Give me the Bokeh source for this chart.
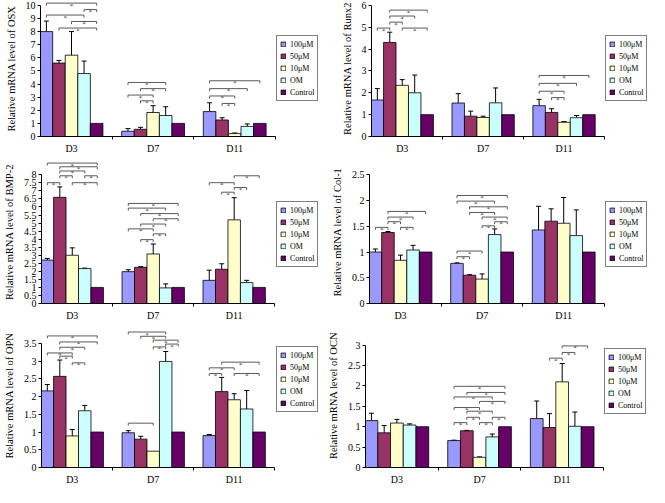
from bokeh.plotting import figure
from bokeh.models import (ColumnDataSource, Range1d, FixedTicker, Whisker, TeeHead,
                          Legend, LegendItem)
from bokeh.layouts import row, column
from bokeh.embed import file_html
from bokeh.resources import INLINE

# ---------------- data ----------------
DAYS = ["D3", "D7", "D11"]
GROUPS = ["100μM", "50μM", "10μM", "OM", "Control"]
COLORS = ["#9999FF", "#993366", "#FFFFCC", "#CCFFFF", "#660066"]

# means per day: [100μM, 50μM, 10μM, OM, Control]
OSX_MEAN = [[8.0, 5.6, 6.2, 4.8, 1.0], [0.4, 0.55, 1.83, 1.6, 1.0], [1.9, 1.26, 0.22, 0.77, 1.0]]
OSX_ERR = [[0.8, 0.2, 1.8, 0.95, 0], [0.2, 0.15, 0.52, 0.67, 0], [0.67, 0.17, 0.05, 0.19, 0]]
OSX_TICKS = [0, 1, 2, 3, 4, 5, 6, 7, 8, 9, 10]
# significance brackets: (day, group a, group b, level, star)
OSX_SIG = [(0, 0, 4, 10.17, 1), (0, 3, 4, 9.68, 1), (0, 0, 3, 9.26, 1), (0, 2, 4, 8.77, 1), (0, 1, 4, 8.27, 1),
           (1, 0, 3, 4.12, 1), (1, 1, 3, 3.65, 1), (1, 0, 2, 3.16, 1), (1, 1, 2, 2.72, 1),
           (2, 0, 4, 4.25, 1), (2, 0, 3, 3.65, 1), (2, 0, 2, 3.09, 1), (2, 1, 2, 2.52, 1)]

RUNX2_MEAN = [[1.67, 4.3, 2.34, 2.0, 1.0], [1.53, 0.93, 0.87, 1.54, 1.0], [1.41, 1.1, 0.65, 0.86, 1.0]]
RUNX2_ERR = [[0.52, 0.47, 0.26, 0.81, 0], [0.43, 0.23, 0.06, 0.68, 0], [0.29, 0.17, 0.03, 0.1, 0]]
RUNX2_TICKS = [0, 1, 2, 3, 4, 5, 6]
RUNX2_SIG = [(0, 1, 4, 5.78, 1), (0, 1, 3, 5.51, 1), (0, 1, 2, 5.23, 1), (0, 0, 1, 4.96, 1), (0, 2, 4, 4.96, 1),
             (2, 0, 4, 2.79, 1), (2, 0, 3, 2.43, 1), (2, 0, 2, 2.07, 1), (2, 1, 2, 1.78, 1)]

BMP2_MEAN = [[2.7, 6.6, 3.0, 2.17, 1.0], [1.98, 2.25, 3.08, 0.97, 1.0], [1.44, 2.13, 5.2, 1.3, 1.0]]
BMP2_ERR = [[0.1, 0.65, 0.46, 0.03, 0], [0.12, 0.04, 0.62, 0.25, 0], [0.63, 0.34, 1.38, 0.14, 0]]
BMP2_TICKS = [0, 0.5, 1, 1.5, 2, 2.5, 3, 3.5, 4, 4.5, 5, 5.5, 6, 6.5, 7, 7.5, 8]
BMP2_SIG = [(0, 0, 4, 8.73, 1), (0, 1, 4, 8.50, 1), (0, 1, 3, 8.24, 1), (0, 1, 2, 7.94, 1), (0, 3, 4, 7.94, 1),
            (0, 0, 1, 7.51, 1), (0, 2, 4, 7.51, 1),
            (1, 0, 4, 6.22, 1), (1, 0, 3, 5.93, 1), (1, 1, 4, 5.59, 1), (1, 2, 4, 5.27, 1), (1, 1, 3, 4.94, 1),
            (1, 0, 2, 4.64, 1), (1, 2, 3, 4.33, 1), (1, 1, 2, 3.97, 1),
            (2, 2, 4, 7.94, 1), (2, 0, 2, 7.51, 1), (2, 2, 3, 7.21, 1), (2, 1, 2, 6.92, 1)]

COL1_MEAN = [[1.0, 1.38, 0.84, 1.04, 1.0], [0.78, 0.55, 0.475, 1.34, 1.0], [1.43, 1.6, 1.56, 1.32, 1.0]]
COL1_ERR = [[0.06, 0.02, 0.1, 0.09, 0], [0.01, 0.01, 0.1, 0.11, 0], [0.46, 0.24, 0.5, 0.5, 0]]
COL1_TICKS = [0, 0.5, 1, 1.5, 2, 2.5]
COL1_SIG = [(0, 1, 4, 1.79, 1), (0, 1, 3, 1.68, 1), (0, 1, 2, 1.59, 1), (0, 0, 1, 1.48, 1), (0, 2, 3, 1.48, 1),
            (1, 0, 4, 2.10, 1), (1, 0, 3, 1.99, 1), (1, 1, 4, 1.88, 1), (1, 1, 3, 1.77, 1), (1, 2, 4, 1.68, 1),
            (1, 3, 4, 1.59, 1), (1, 2, 3, 1.51, 1), (1, 0, 2, 1.02, 1), (1, 0, 1, 0.91, 1)]

OPN_MEAN = [[2.16, 2.57, 0.89, 1.6, 1.0], [0.98, 0.8, 0.46, 2.99, 1.0], [0.9, 2.14, 1.91, 1.65, 1.0]]
OPN_ERR = [[0.18, 0.46, 0.18, 0.15, 0], [0.06, 0.08, 0, 0.28, 0], [0.03, 0.4, 0.17, 0.52, 0]]
OPN_TICKS = [0, 0.5, 1, 1.5, 2, 2.5, 3, 3.5]
OPN_SIG = [(0, 0, 4, 3.71, 1), (0, 1, 4, 3.54, 1), (0, 1, 3, 3.39, 1), (0, 0, 2, 3.23, 1), (0, 1, 2, 3.14, 1),
           (0, 2, 3, 2.95, 1),
           (1, 0, 3, 3.82, 1), (1, 1, 3, 3.70, 1), (1, 2, 4, 3.59, 1), (1, 3, 4, 3.48, 1), (1, 2, 3, 3.40, 1),
           (1, 0, 2, 1.25, 0),
           (2, 1, 4, 2.97, 1), (2, 0, 2, 2.81, 1), (2, 0, 1, 2.65, 1), (2, 2, 4, 2.65, 1)]

OCN_MEAN = [[1.15, 0.85, 1.09, 1.04, 1.0], [0.66, 0.9, 0.25, 0.75, 1.0], [1.2, 0.98, 2.1, 1.01, 1.0]]
OCN_ERR = [[0.18, 0.18, 0.09, 0.03, 0], [0.01, 0.01, 0.01, 0.07, 0], [0.43, 0.34, 0.45, 0.35, 0]]
OCN_TICKS = [0, 0.5, 1, 1.5, 2, 2.5, 3]
OCN_SIG = [(1, 0, 4, 1.99, 1), (1, 1, 4, 1.84, 1), (1, 0, 3, 1.73, 1), (1, 2, 4, 1.62, 1), (1, 0, 2, 1.47, 1),
           (1, 1, 3, 1.38, 1), (1, 1, 2, 1.23, 1), (1, 3, 4, 1.23, 1), (1, 0, 1, 1.10, 1), (1, 2, 3, 1.10, 1),
           (2, 2, 4, 2.98, 1), (2, 2, 3, 2.82, 1), (2, 1, 2, 2.68, 1)]

# ---------------- style ----------------
FONT = "Liberation Serif"
BAR_W = 0.154
X_START = 0.12


def xpos(day, g):
    return day + 0.5 + (g - (len(GROUPS) - 1) / 2) * BAR_W


def panel(label, means, errs, sig, ticks, y_end, width, height, left, fw, bottom, leg_y):
    fh = height - bottom
    x_end_axis = len(DAYS)
    # frame spans the legend area too; the x axis stops at the last category
    x_end = X_START + (width - left) * (x_end_axis - X_START) / fw
    p = figure(width=width, height=height, output_backend="svg", toolbar_location=None,
               x_range=Range1d(X_START, x_end), y_range=Range1d(0, y_end),
               min_border_left=left, min_border_right=0,
               min_border_top=0, min_border_bottom=bottom)
    p.outline_line_color = None
    p.xgrid.grid_line_color = None
    p.ygrid.grid_line_color = None
    p.background_fill_color = "white"
    p.border_fill_color = "white"

    items = []
    for g, name in enumerate(GROUPS):
        src = ColumnDataSource(dict(x=[xpos(d, g) for d in range(len(DAYS))],
                                    top=[means[d][g] for d in range(len(DAYS))]))
        r = p.vbar(x="x", top="top", bottom=0, width=BAR_W, source=src,
                   fill_color=COLORS[g], line_color="black", line_width=0.8)
        items.append(LegendItem(label=name, renderers=[r]))
        ex, lo, up = [], [], []
        for d in range(len(DAYS)):
            if errs[d][g] > 0:
                ex.append(xpos(d, g))
                lo.append(means[d][g])
                up.append(means[d][g] + errs[d][g])
        if ex:
            wsrc = ColumnDataSource(dict(x=ex, lower=lo, upper=up))
            w = Whisker(source=wsrc, base="x", lower="lower", upper="upper", dimension="height",
                        line_color="black", line_width=1,
                        upper_head=TeeHead(size=5, line_color="black", line_width=1),
                        lower_head=None)
            p.add_layout(w)

    # significance brackets
    drop = 2.5 * y_end / fh
    xs, ys, sx, sy = [], [], [], []
    for d, a, b, lvl, star in sig:
        x1, x2 = xpos(d, a), xpos(d, b)
        xs.append([x1, x1, x2, x2])
        ys.append([lvl - drop, lvl, lvl, lvl - drop])
        if star:
            sx.append((x1 + x2) / 2)
            sy.append(lvl)
    p.multi_line(xs=xs, ys=ys, line_color="#5a5a5a", line_width=1)
    p.text(x=sx, y=sy, text=["*"] * len(sx), text_font_size="7px", text_color="#333333",
           text_font="Liberation Sans",
           text_align="center", text_baseline="alphabetic", y_offset=2.5)

    # x axis
    xa = p.xaxis[0]
    centers = [i + 0.5 for i in range(len(DAYS))]
    xa.ticker = FixedTicker(ticks=centers, minor_ticks=[i + 1 for i in range(len(DAYS))])
    xa.bounds = (X_START, x_end_axis)
    xa.major_label_overrides = {c: DAYS[i] for i, c in enumerate(centers)}
    xa.major_tick_out = 0
    xa.major_tick_in = 0
    xa.minor_tick_out = 3
    xa.minor_tick_in = 0
    xa.minor_tick_line_color = "black"
    xa.axis_line_color = "black"
    xa.major_label_standoff = 3
    xa.major_label_text_font = FONT
    xa.major_label_text_font_size = "10px"
    xa.major_label_text_color = "black"

    # y axis
    ya = p.yaxis[0]
    ya.ticker = FixedTicker(ticks=ticks)
    ya.bounds = (0, ticks[-1])
    ya.major_label_overrides = {t: f"{t:g}" for t in ticks}
    ya.major_tick_out = 3
    ya.major_tick_in = 0
    ya.minor_tick_line_color = None
    ya.major_label_standoff = 2
    ya.major_label_text_font = FONT
    ya.major_label_text_font_size = "10px"
    ya.major_label_text_color = "black"
    ya.axis_label = label
    ya.axis_label_text_font = FONT
    ya.axis_label_text_font_size = "10.5px"
    ya.axis_label_text_font_style = "normal"
    ya.axis_label_text_color = "black"
    ya.axis_label_standoff = 6

    legend = Legend(items=items, location=(fw + 1, leg_y), orientation="vertical",
                    label_text_font=FONT, label_text_font_size="8px", label_text_color="black",
                    glyph_width=6, glyph_height=6, label_height=10, label_standoff=4,
                    spacing=2, padding=3, margin=0,
                    border_line_color="black", border_line_width=1,
                    background_fill_color="white", background_fill_alpha=1)
    p.add_layout(legend)
    return p


p1 = panel("Relative mRNA level of OSX", OSX_MEAN, OSX_ERR, OSX_SIG, OSX_TICKS, 10.37, 324, 160, 40, 235, 24, 35)
p2 = panel("Relative mRNA level of Runx2", RUNX2_MEAN, RUNX2_ERR, RUNX2_SIG, RUNX2_TICKS, 6.22, 325, 160, 47, 233, 24, 35)
p3 = panel("Relative mRNA level of BMP-2", BMP2_MEAN, BMP2_ERR, BMP2_SIG, BMP2_TICKS, 8.89, 324, 163, 40, 234, 18, 36)
p4 = panel("Relative mRNA level of Col-1", COL1_MEAN, COL1_ERR, COL1_SIG, COL1_TICKS, 2.78, 325, 163, 45, 235, 18, 36)
p5 = panel("Relative mRNA level of OPN", OPN_MEAN, OPN_ERR, OPN_SIG, OPN_TICKS, 4.06, 324, 164, 40, 234, 16, 55)
p6 = panel("Relative mRNA level of OCN", OCN_MEAN, OCN_ERR, OCN_SIG, OCN_TICKS, 3.53, 325, 164, 41, 238, 16, 53)

layout = column(row(p1, p2), row(p3, p4), row(p5, p6))

open("out.html", "w").write(file_html(layout, INLINE))
